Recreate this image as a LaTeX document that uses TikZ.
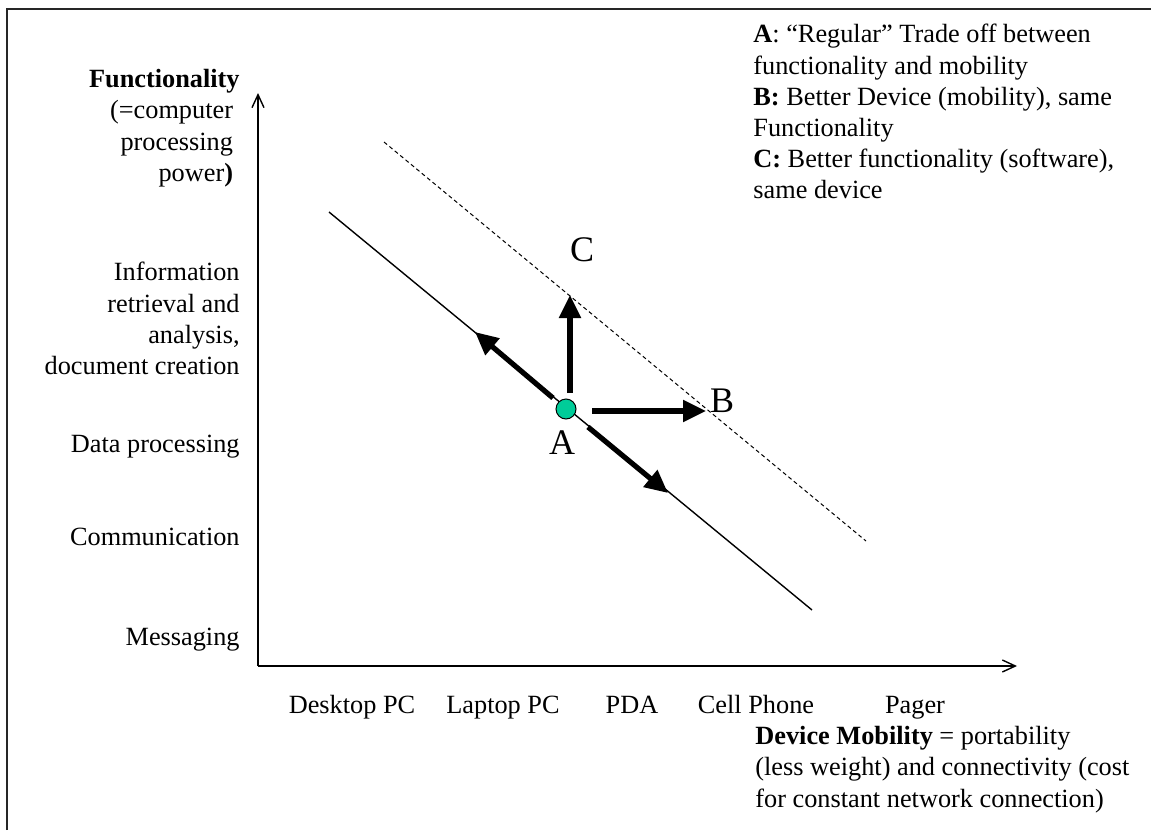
\documentclass[tikz,border=0pt]{standalone}
\usepackage{fontspec}
\setmainfont{Liberation Serif}
\usetikzlibrary{arrows.meta}
\definecolor{dotgreen}{RGB}{0,204,153}

\begin{document}
\begin{tikzpicture}[x=.5pt,y=-.5pt,>={Straight Barb[length=6.5pt,width=6pt]},
  txt/.style={font=\fontsize{13.15}{15.6}\selectfont,inner sep=0pt},
  letter/.style={font=\fontsize{18}{20}\selectfont,inner sep=0pt},
  bigarrow/.style={line width=2.6pt,-{Triangle[length=11.5pt,width=10.5pt]}}]
\useasboundingbox (0,0) rectangle (1151,830);
\draw[line width=1pt,black!85] (7,830)--(7,9)--(1151,9);
% axes
\coordinate (o) at (258,666);
\coordinate (ytop) at (258,93);
\coordinate (xend) at (1017,666);
\draw[->,line width=.7pt] (o)--(ytop);
\draw[->,line width=.7pt] (o)--(xend);
\node[txt,anchor=north east,align=right] (ytitle) at (240,69)
  {\textbf{Functionality}\\(=computer\kern.25em\\processing\kern.25em\\power\textbf{)}\kern.25em};
\node[txt,anchor=north east,align=right] (info) at (240,262)
  {Information\\retrieval and\\analysis,\\document creation};
\foreach \y/\t [count=\i] in {452/Data processing,545/Communication,645/Messaging}
  \node[txt,anchor=base east] (func\i) at (240,\y) {\t};
\foreach \x/\t [count=\i] in {352/Desktop PC,503/Laptop PC,632/PDA,756/Cell Phone,915/Pager}
  \node[txt,anchor=base] (mob\i) at (\x,713) {\t};
\node[txt,anchor=north west,align=left] (xtitle) at (755,726)
  {\textbf{Device Mobility} = portability\\(less weight) and connectivity (cost\\for constant network connection)};
\node[txt,anchor=north west,align=left] (legend) at (753,24)
  {\textbf{A}: “Regular” Trade off between\\functionality and mobility\\\textbf{B:} Better Device (mobility), same\\Functionality\\\textbf{C:} Better functionality (software),\\same device};
% trade-off lines
\coordinate (s1) at (329,212);
\coordinate (s2) at (812,610);
\coordinate (d1) at (384,142);
\coordinate (d2) at (866,541);
\draw[line width=.7pt] (s1)--(s2);
\draw[line width=.5pt,dash pattern=on 2pt off 1.5pt] (d1)--(d2);
% moves from A
\coordinate (ulS) at (553,398);
\coordinate (ulE) at (475,332);
\coordinate (upS) at (570,393);
\coordinate (upE) at (570,295);
\coordinate (rtS) at (592,411);
\coordinate (rtE) at (706,411);
\coordinate (drS) at (588,427);
\coordinate (drE) at (668,493);
\draw[bigarrow] (ulS)--(ulE);
\draw[bigarrow] (upS)--(upE);
\draw[bigarrow] (rtS)--(rtE);
\draw[bigarrow] (drS)--(drE);
\node[circle,draw,line width=.5pt,fill=dotgreen,minimum size=10pt,inner sep=0pt] (ptA) at (566,409) {};
\node[letter] (labA) at (562,443) {A};
\node[letter] (labB) at (722,401) {B};
\node[letter] (labC) at (582,250) {C};
\end{tikzpicture}
\end{document}
